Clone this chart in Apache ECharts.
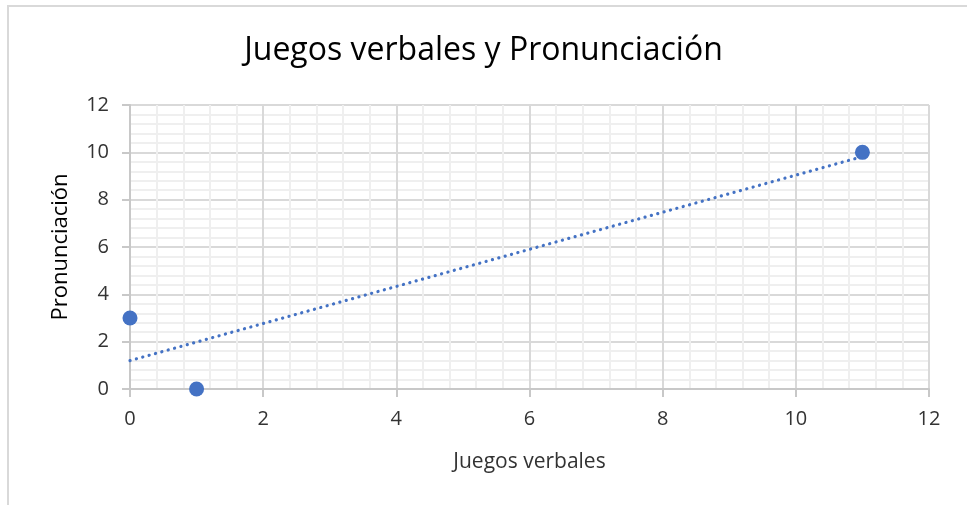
<!DOCTYPE html>
<html>
<head>
<meta charset="utf-8">
<script src="https://cdn.jsdelivr.net/npm/echarts@6/dist/echarts.min.js"></script>
<style>
  html, body { margin: 0; padding: 0; background: #fff; }
  #chart { width: 967px; height: 505px; }
</style>
</head>
<body>
<div id="chart"></div>
<script>
// datos
var juegosVerbales = [0, 1, 11];
var pronunciacion = [3, 0, 10];
// línea de tendencia (extremos)
var tendenciaX = [0, 11];
var tendenciaY = [1.2, 9.82];

var puntos = juegosVerbales.map(function (x, i) { return [x, pronunciacion[i]]; });
var tendencia = tendenciaX.map(function (x, i) { return [x, tendenciaY[i]]; });

var fuente = '"Open Sans", "Noto Sans", sans-serif';
var myChart = echarts.init(document.getElementById('chart'));

myChart.setOption({
    backgroundColor: '#fff',
    animation: false,
    title: {
        text: 'Juegos verbales y Pronunciación',
        left: 'center',
        top: 30,
        textStyle: { fontFamily: fuente, fontSize: 32, fontWeight: 'normal', color: '#000' }
    },
    graphic: [{
        type: 'rect',
        shape: { x: 8, y: 6, width: 1200, height: 800 },
        style: { fill: 'none', stroke: '#d9d9d9', lineWidth: 2 },
        silent: true
    }],
    grid: { left: 130, right: 38, top: 105, bottom: 116 },
    xAxis: {
        type: 'value',
        min: 0, max: 12, interval: 2,
        name: 'Juegos verbales',
        nameLocation: 'middle',
        nameGap: 63,
        nameTextStyle: { fontFamily: fuente, fontSize: 21, color: '#333' },
        axisLine: { show: true, lineStyle: { color: '#c8c8c8', width: 2 } },
        axisTick: { show: true, length: 8, lineStyle: { color: '#c8c8c8', width: 2 } },
        axisLabel: { margin: 20, fontFamily: fuente, fontSize: 20, color: '#333' },
        splitLine: { show: true, lineStyle: { color: '#d9d9d9', width: 2 } },
        minorTick: { show: false, splitNumber: 5 },
        minorSplitLine: { show: true, lineStyle: { color: '#efefef', width: 2 } }
    },
    yAxis: {
        type: 'value',
        min: 0, max: 12, interval: 2,
        name: 'Pronunciación',
        nameLocation: 'middle',
        nameGap: 58,
        nameTextStyle: { fontFamily: fuente, fontSize: 22, color: '#000' },
        axisLine: { show: true, lineStyle: { color: '#c8c8c8', width: 2 } },
        axisTick: { show: true, length: 8, lineStyle: { color: '#c8c8c8', width: 2 } },
        axisLabel: { margin: 21, fontFamily: fuente, fontSize: 20, color: '#333' },
        splitLine: { show: true, lineStyle: { color: '#d9d9d9', width: 2 } },
        minorTick: { show: false, splitNumber: 5 },
        minorSplitLine: { show: true, lineStyle: { color: '#efefef', width: 2 } }
    },
    series: [{
        type: 'line',
        data: tendencia,
        symbol: 'none',
        z: 2,
        lineStyle: { color: '#4472c4', width: 3.2, type: [0.1, 6.5], cap: 'round' }
    }, {
        type: 'scatter',
        data: puntos,
        symbol: 'circle',
        symbolSize: 15,
        z: 3,
        itemStyle: { color: '#4472c4', opacity: 1 }
    }]
});
</script>
</body>
</html>
